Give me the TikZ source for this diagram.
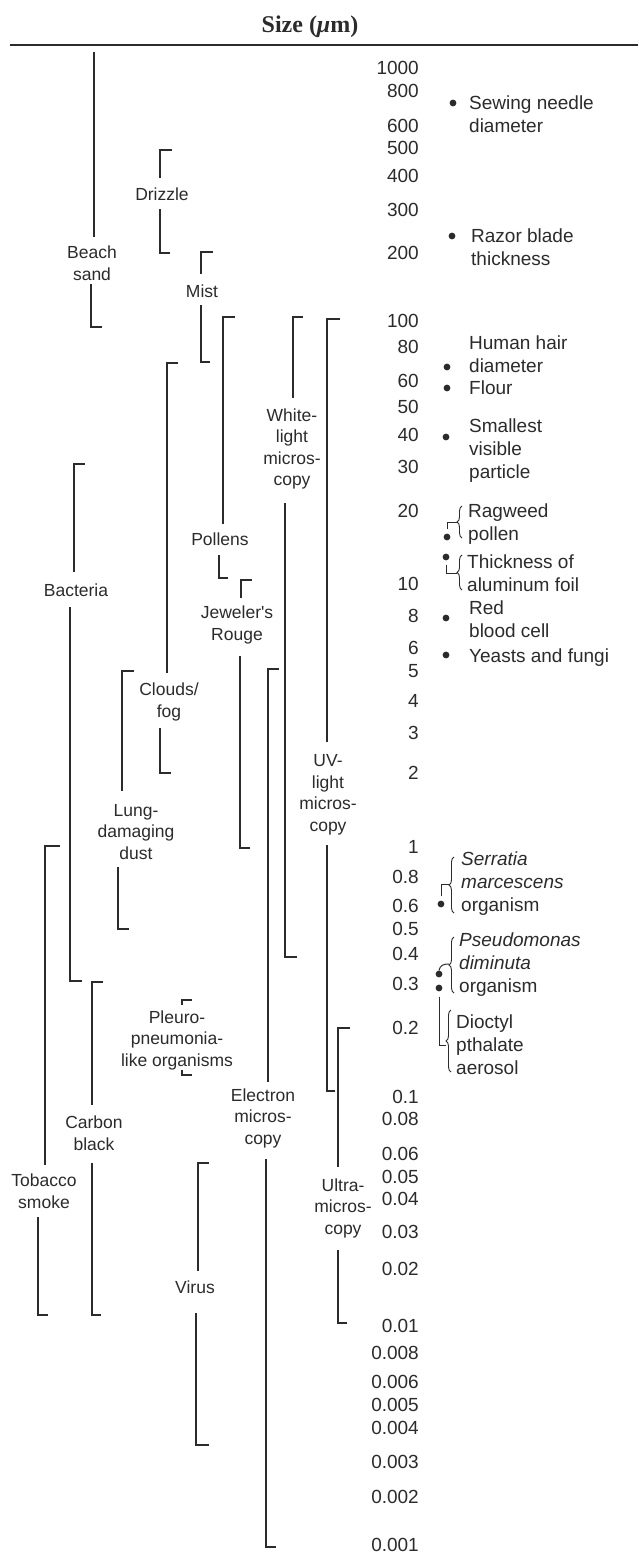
\documentclass[tikz,border=0pt]{standalone}
\usepackage{fontspec}
\setmainfont{Liberation Sans}
\newfontfamily\sansf{Liberation Sans}
\newfontfamily\titleserif{Liberation Serif}
\usetikzlibrary{decorations.pathreplacing}
\definecolor{ink}{HTML}{2B2B2B}
\newcommand\labfont{\sansf\fontsize{17.5}{21.5}\selectfont}
\newcommand\numfont{\sansf\fontsize{19}{22}\selectfont}
\newcommand\rfont{\sansf\fontsize{19}{23}\selectfont}
\begin{document}
\begin{tikzpicture}[x=1pt,y=-1pt,
  bar/.style={draw=ink, line width=1.2pt},
  cbar/.style={draw=ink, line width=1pt},
  lab/.style={font=\labfont, align=center, inner sep=0pt, text=ink},
  num/.style={font=\numfont, anchor=east, inner sep=0pt, text=ink},
  rlab/.style={font=\rfont, align=left, anchor=west, inner sep=0pt, text=ink},
  dot/.style={circle, fill=ink, inner sep=0pt, minimum size=6.8pt},
  brc/.style={draw=ink, line width=0.9pt, decorate, decoration={brace, amplitude=5pt}}]
\useasboundingbox (0,0) rectangle (638,1560);
% title
\node[font=\titleserif\bfseries\fontsize{24}{28}\selectfont, text=ink] (title) at (310,27) {Size (\textit{μ}m)};
\coordinate (r1) at (10,45); \coordinate (r2) at (638,45);
\draw[draw=ink, line width=2.6pt] (r1) -- (r2);
% scale numbers
\foreach \v/\y [count=\i] in {1000/68,800/91,600/126,500/148,400/176,300/210,200/253,100/321,80/347,60/381,50/407,40/435,30/467,20/511,10/584,8/616,6/648,5/671,4/701,3/733,2/773,1/847,0.8/877,0.6/906,0.5/929,0.4/954,0.3/984,0.2/1028,0.1/1097,0.08/1119,0.06/1154,0.05/1177,0.04/1199,0.03/1232,0.02/1269,0.01/1326,0.008/1353,0.006/1382,0.005/1405,0.004/1428,0.003/1462,0.002/1497,0.001/1545}
  \node[num] (n\i) at (419,\y) {\v};
% left range labels
\node[lab] (beach) at (92,263) {Beach\\sand};
\node[lab] (drizzle) at (162,194) {Drizzle};
\node[lab] (mist) at (202,291) {Mist};
\node[lab] (clouds) at (169,702) {Clouds/\\fog};
\node[lab] (pollens) at (220,539) {Pollens};
\node[lab] (white) at (292,449) {White-\\light\\micros-\\copy};
\node[lab] (jewel) at (237,625) {Jeweler's\\Rouge};
\node[lab] (bact) at (76,590) {Bacteria};
\node[lab] (elec) at (263,1118) {Electron\\micros-\\copy};
\node[lab] (uv) at (328,795) {UV-\\light\\micros-\\copy};
\node[lab] (ultra) at (343,1208) {Ultra-\\micros-\\copy};
\node[lab] (lung) at (136,832) {Lung-\\damaging\\dust};
\node[lab] (tobacco) at (44,1191) {Tobacco\\smoke};
\node[lab] (carbon) at (94,1133) {Carbon\\black};
\node[lab] (pleuro) at (177,1040) {Pleuro-\\pneumonia-\\like organisms};
\node[lab] (virus) at (195,1287) {Virus};
% range bars: top tick -| top end ; bottom tick -| bottom start
\path coordinate (bs1) at (94,52) coordinate (bs2) at (94,237)
      coordinate (bs3) at (102,327) coordinate (bs4) at (91,284);
\draw[bar] (bs1) -- (bs2); \draw[bar] (bs3) -| (bs4);
\path coordinate (dz1) at (172,150) coordinate (dz2) at (160,178)
      coordinate (dz3) at (170,253) coordinate (dz4) at (160,209);
\draw[bar] (dz1) -| (dz2); \draw[bar] (dz3) -| (dz4);
\path coordinate (mi1) at (213,252) coordinate (mi2) at (201,274)
      coordinate (mi3) at (210,362) coordinate (mi4) at (201,305);
\draw[bar] (mi1) -| (mi2); \draw[bar] (mi3) -| (mi4);
\path coordinate (cf1) at (178,363) coordinate (cf2) at (167,673)
      coordinate (cf3) at (171,773) coordinate (cf4) at (160,728);
\draw[bar] (cf1) -| (cf2); \draw[bar] (cf3) -| (cf4);
\path coordinate (po1) at (235,317) coordinate (po2) at (223,524)
      coordinate (po3) at (228,578) coordinate (po4) at (219,555);
\draw[bar] (po1) -| (po2); \draw[bar] (po3) -| (po4);
\path coordinate (wl1) at (303,317) coordinate (wl2) at (293,398)
      coordinate (wl3) at (297,957) coordinate (wl4) at (285,503);
\draw[bar] (wl1) -| (wl2); \draw[bar] (wl3) -| (wl4);
\path coordinate (jr1) at (252,580) coordinate (jr2) at (241,598)
      coordinate (jr3) at (250,848) coordinate (jr4) at (240,656);
\draw[bar] (jr1) -| (jr2); \draw[bar] (jr3) -| (jr4);
\path coordinate (ba1) at (85,464) coordinate (ba2) at (74,572)
      coordinate (ba3) at (82,981) coordinate (ba4) at (70,607);
\draw[bar] (ba1) -| (ba2); \draw[bar] (ba3) -| (ba4);
\path coordinate (el1) at (279,669) coordinate (el2) at (268,1082)
      coordinate (el3) at (276,1547) coordinate (el4) at (266,1159);
\draw[bar] (el1) -| (el2); \draw[bar] (el3) -| (el4);
\path coordinate (uv1) at (340,319) coordinate (uv2) at (327,742)
      coordinate (uv3) at (335,1091) coordinate (uv4) at (327,845);
\draw[bar] (uv1) -| (uv2); \draw[bar] (uv3) -| (uv4);
\path coordinate (um1) at (350,1028) coordinate (um2) at (338,1167)
      coordinate (um3) at (347,1323) coordinate (um4) at (338,1250);
\draw[bar] (um1) -| (um2); \draw[bar] (um3) -| (um4);
\path coordinate (lu1) at (134,671) coordinate (lu2) at (122,791)
      coordinate (lu3) at (129,929) coordinate (lu4) at (118,867);
\draw[bar] (lu1) -| (lu2); \draw[bar] (lu3) -| (lu4);
\path coordinate (ts1) at (60,846) coordinate (ts2) at (45,1165)
      coordinate (ts3) at (48,1315) coordinate (ts4) at (38,1217);
\draw[bar] (ts1) -| (ts2); \draw[bar] (ts3) -| (ts4);
\path coordinate (cb1) at (103,982) coordinate (cb2) at (92,1105)
      coordinate (cb3) at (101,1315) coordinate (cb4) at (92,1163);
\draw[bar] (cb1) -| (cb2); \draw[bar] (cb3) -| (cb4);
\path coordinate (pl1) at (192,1000) coordinate (pl2) at (182,1005)
      coordinate (pl3) at (192,1075) coordinate (pl4) at (182,1070);
\draw[bar] (pl1) -| (pl2); \draw[bar] (pl3) -| (pl4);
\path coordinate (vi1) at (209,1163) coordinate (vi2) at (198,1271)
      coordinate (vi3) at (209,1445) coordinate (vi4) at (196,1313);
\draw[bar] (vi1) -| (vi2); \draw[bar] (vi3) -| (vi4);
% right side reference items
\node[dot] (d-sew) at (453,103) {};
\node[rlab] (sew) at (469,114) {Sewing needle\\diameter};
\node[dot] (d-razor) at (452,236) {};
\node[rlab] (razor) at (471,247) {Razor blade\\thickness};
\node[rlab] (hair) at (469,354) {Human hair\\diameter};
\node[dot] (d-hair) at (447,367) {};
\node[dot] (d-flour) at (447,388) {};
\node[rlab] (flour) at (469,388) {Flour};
\node[dot] (d-small) at (446,437) {};
\node[rlab] (small) at (469,451) {Smallest\\visible\\particle};
% ragweed
\node[rlab] (rag) at (468,524) {Ragweed\\pollen};
\node[dot] (d-rag) at (447,537) {};
\path coordinate (rag-a) at (462,538) coordinate (rag-b) at (462,506)
      coordinate (rag-tip) at (457,522);
\draw[brc] (rag-a) -- (rag-b);
\draw[cbar] ([yshift=4pt]d-rag.north) |- (rag-tip);
% foil
\node[rlab] (foil) at (467,573) {Thickness of\\aluminum foil};
\node[dot] (d-foil) at (446,557) {};
\path coordinate (foil-a) at (462,590) coordinate (foil-b) at (462,555)
      coordinate (foil-tip) at (457,573);
\draw[brc] (foil-a) -- (foil-b);
\draw[cbar] ([yshift=-4pt]d-foil.south) |- (foil-tip);
\node[dot] (d-rbc) at (446,618) {};
\node[rlab] (rbc) at (469,619) {Red\\blood cell};
\node[dot] (d-yeast) at (446,655) {};
\node[rlab] (yeast) at (469,658) {Yeasts and fungi};
% serratia
\node[rlab] (serr) at (461,884) {\textit{Serratia}\\\textit{marcescens}\\organism};
\node[dot] (d-serr) at (441,904) {};
\path coordinate (serr-a) at (454,913) coordinate (serr-b) at (454,857)
      coordinate (serr-tip) at (449,884);
\draw[brc] (serr-a) -- (serr-b);
\draw[cbar] ([yshift=4pt]d-serr.north) |- (serr-tip);
% pseudomonas
\node[rlab] (pseu) at (459,965) {\textit{Pseudomonas}\\\textit{diminuta}\\organism};
\node[dot] (d-pseu) at (439,974) {};
\node[dot] (d-pseu2) at (439,988) {};
\path coordinate (pseu-a) at (454,993) coordinate (pseu-b) at (454,937)
      coordinate (pseu-tip) at (449,964);
\draw[brc] (pseu-a) -- (pseu-b);
\draw[cbar] (d-pseu.north) .. controls (440,965) and (444,964) .. (pseu-tip);
% dioctyl
\node[rlab] (dioc) at (456,1045) {Dioctyl\\pthalate\\aerosol};
\path coordinate (dioc-a) at (451,1072) coordinate (dioc-b) at (451,1010)
      coordinate (dioc-tip) at (446,1045);
\draw[brc] (dioc-a) -- (dioc-b);
\draw[cbar] ([yshift=-5pt]d-pseu2.south) |- (dioc-tip);
\end{tikzpicture}
\end{document}
